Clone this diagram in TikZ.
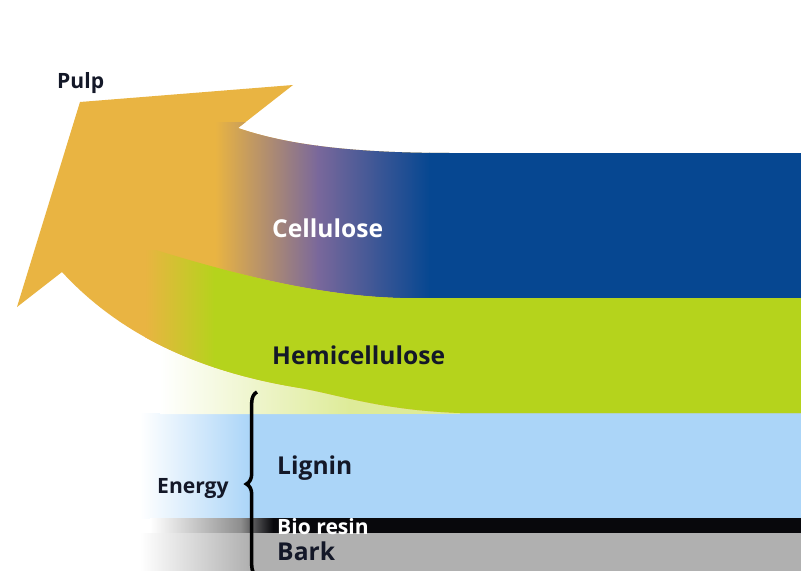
\documentclass[tikz,border=0pt]{standalone}
\usepackage{fontspec}
\setmainfont{Open Sans}
\usetikzlibrary{decorations.pathreplacing}
\definecolor{pulp}{RGB}{233,180,66}
\definecolor{cellblue}{RGB}{6,71,145}
\definecolor{mauve}{RGB}{122,104,155}
\definecolor{hemigreen}{RGB}{181,211,28}
\definecolor{lignin}{RGB}{171,213,248}
\definecolor{resin}{RGB}{8,8,12}
\definecolor{bark}{RGB}{176,176,176}
\definecolor{ink}{RGB}{20,24,40}
\tikzset{
  lbl/.style={font=\bfseries\fontsize{21}{24}\selectfont, anchor=base west, inner sep=0pt, text=ink},
  slbl/.style={font=\bfseries\fontsize{18}{21}\selectfont, anchor=base west, inner sep=0pt, text=ink},
  brc/.style={decorate, decoration={brace, amplitude=9pt}, line width=3pt},
}
\newcommand{\pulparrow}{(80,102) -- (293,85) -- (238,128) .. controls (290,146) and (360,153) .. (450,153) -- (801,153) -- (801,413) -- (460,413) .. controls (380,410) and (340,395) .. (300,388) .. controls (200,372) and (120,335) .. (62,272) -- (17,307) -- cycle}

\begin{document}
\begin{tikzpicture}[x=0.3mm, y=-0.3mm]
\useasboundingbox (0,0) rectangle (801,571);
\clip (0,0) rectangle (801,571);
\fill[white] (0,0) rectangle (801,571);

% Lignin, bio resin, bark
\fill[lignin] (249,413) rectangle (801,518);
\shade[left color=white, right color=lignin] (140,413) rectangle (250,518);
\fill[resin] (272,518) rectangle (801,533);
\shade[left color=white, right color=black!45] (150,518) rectangle (242,533);
\shade[left color=black!45, right color=resin] (241,518) rectangle (273,533);
\fill[bark] (249,533) rectangle (801,571);
\shade[left color=white, right color=bark] (140,533) rectangle (250,571);

% Haze under the green band
\begin{scope}
  \clip (150,300) -- (300,388) .. controls (340,395) and (380,410) .. (460,413) -- (460,414) -- (150,414) -- cycle;
  \shade[left color=white, right color=hemigreen!45] (160,300) rectangle (350,414);
  \fill[hemigreen!45] (349,300) rectangle (460,414);
\end{scope}

% Pulp arrow
\fill[pulp] \pulparrow;

% Cellulose
\begin{scope}
  \clip \pulparrow;
  \clip (140,122) -- (801,122) -- (801,298) -- (400,298) .. controls (330,296) and (250,280) .. (140,245) -- cycle;
  \shade[left color=pulp, right color=mauve] (215,0) rectangle (318,300);
  \shade[left color=mauve, right color=cellblue] (317,0) rectangle (430,300);
  \fill[cellblue] (429,0) rectangle (801,300);
\end{scope}

% Hemicellulose
\begin{scope}
  \clip \pulparrow;
  \clip (140,245) .. controls (250,280) and (330,296) .. (400,298) -- (801,298) -- (801,571) -- (140,571) -- cycle;
  \shade[left color=pulp, right color=hemigreen] (145,250) rectangle (215,420);
  \fill[hemigreen] (214,250) rectangle (801,420);
\end{scope}

% Labels
\node[slbl] (pulp) at (57,89) {Pulp};
\node[lbl, text=white] (cel) at (272,237) {Cellulose};
\node[lbl] (hemi) at (272,364) {Hemicellulose};
\node[lbl] (lig) at (277,474) {Lignin};
\node[slbl, text=white] (bio) at (277,534) {Bio resin};
\node[lbl] (bark) at (277,560) {Bark};
\node[slbl] (energy) at (157,493) {Energy};

% Energy brace
\draw[brc] (257,576) -- (257,392);

\end{tikzpicture}
\end{document}
